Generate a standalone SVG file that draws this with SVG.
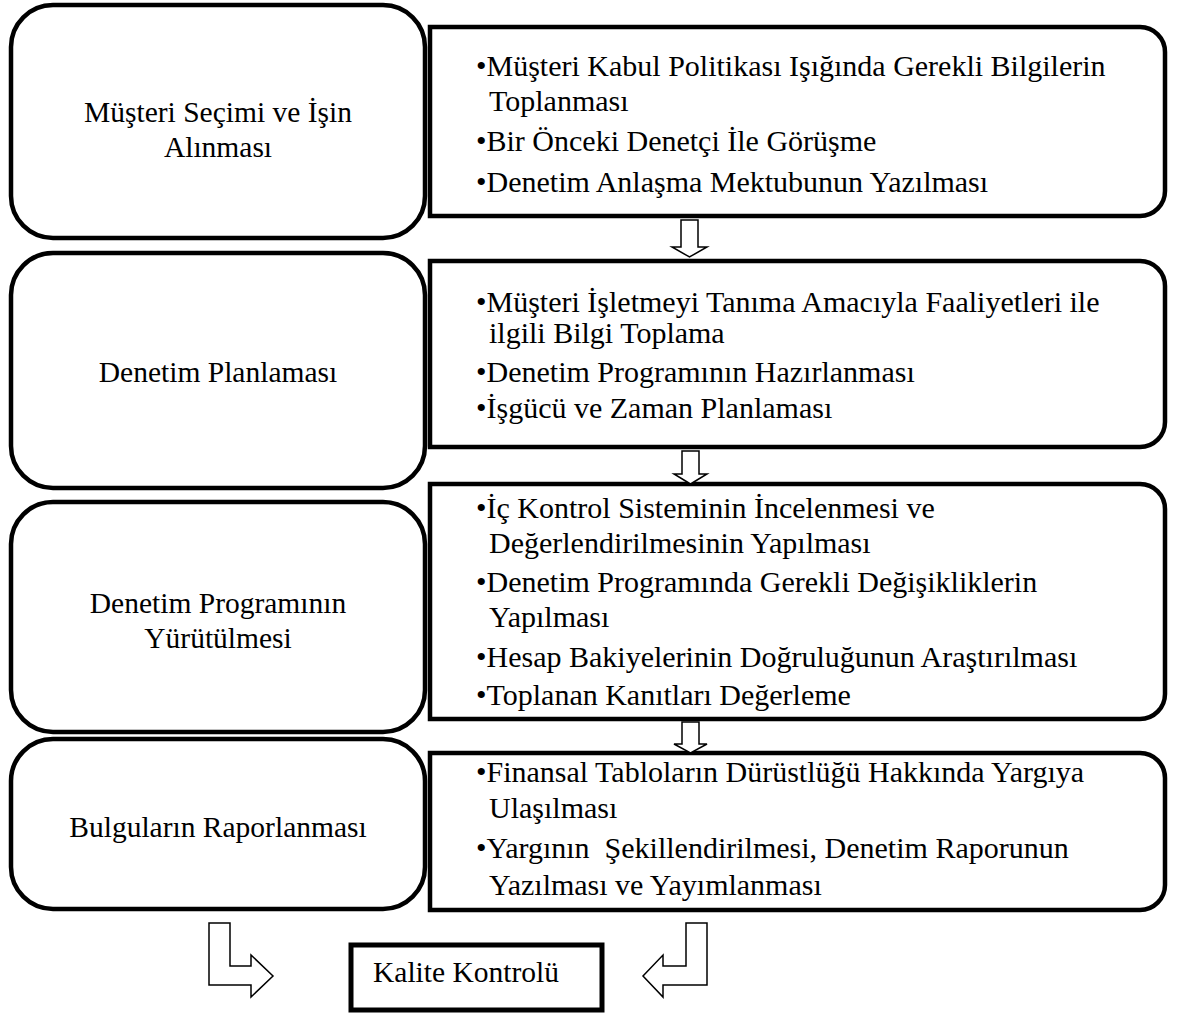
<svg xmlns="http://www.w3.org/2000/svg" width="1184" height="1016" viewBox="0 0 1184 1016">
  <style>
    .stage { fill: #ffffff; stroke: #000000; stroke-width: 4.5; }
    .detail { fill: #ffffff; stroke: #000000; stroke-width: 4.5; }
    .final { fill: #ffffff; stroke: #000000; stroke-width: 5; }
    .arrow { fill: #ffffff; stroke: #000000; stroke-width: 1.5; stroke-linejoin: miter; }
    .mid { text-anchor: middle; }
    .item { font-size: 30px; }
  </style>
  <rect width="1184" height="1016" fill="#ffffff"/>

  <g font-family="Liberation Serif, DejaVu Serif, serif" font-size="29.5" fill="#000000">
  <!-- Stage 1 -->
  <g id="stage-1">
    <rect class="stage" x="11" y="5" width="414" height="233" rx="42" ry="42"/>
    <text class="mid" x="218" y="122">Müşteri Seçimi ve İşin</text>
    <text class="mid" x="218" y="157">Alınması</text>
  </g>
  <g id="stage-1-details">
    <path class="detail" d="M430,27 H1140 A25,25 0 0 1 1165,52 V191 A25,25 0 0 1 1140,216 H430 Z"/>
    <text class="item" x="476" y="76">•Müşteri Kabul Politikası Işığında Gerekli Bilgilerin</text>
    <text class="item" x="489" y="111">Toplanması</text>
    <text class="item" x="476" y="151">•Bir Önceki Denetçi İle Görüşme</text>
    <text class="item" x="476" y="192">•Denetim Anlaşma Mektubunun Yazılması</text>
  </g>

  <!-- Stage 2 -->
  <g id="stage-2">
    <rect class="stage" x="11" y="253" width="414" height="235" rx="42" ry="42"/>
    <text class="mid" x="218" y="382">Denetim Planlaması</text>
  </g>
  <g id="stage-2-details">
    <path class="detail" d="M430,261 H1140 A25,25 0 0 1 1165,286 V422 A25,25 0 0 1 1140,447 H430 Z"/>
    <text class="item" x="476" y="312">•Müşteri İşletmeyi Tanıma Amacıyla Faaliyetleri ile</text>
    <text class="item" x="489" y="343">ilgili Bilgi Toplama</text>
    <text class="item" x="476" y="382">•Denetim Programının Hazırlanması</text>
    <text class="item" x="476" y="418">•İşgücü ve Zaman Planlaması</text>
  </g>

  <!-- Stage 3 -->
  <g id="stage-3">
    <rect class="stage" x="11" y="502" width="414" height="230" rx="42" ry="42"/>
    <text class="mid" x="218" y="613">Denetim Programının</text>
    <text class="mid" x="218" y="648">Yürütülmesi</text>
  </g>
  <g id="stage-3-details">
    <path class="detail" d="M430,484 H1140 A25,25 0 0 1 1165,509 V694 A25,25 0 0 1 1140,719 H430 Z"/>
    <text class="item" x="476" y="518">•İç Kontrol Sisteminin İncelenmesi ve</text>
    <text class="item" x="489" y="553">Değerlendirilmesinin Yapılması</text>
    <text class="item" x="476" y="592">•Denetim Programında Gerekli Değişikliklerin</text>
    <text class="item" x="489" y="627">Yapılması</text>
    <text class="item" x="476" y="667">•Hesap Bakiyelerinin Doğruluğunun Araştırılması</text>
    <text class="item" x="476" y="705">•Toplanan Kanıtları Değerleme</text>
  </g>

  <!-- Stage 4 -->
  <g id="stage-4">
    <rect class="stage" x="11" y="739" width="414" height="170" rx="42" ry="42"/>
    <text class="mid" x="218" y="837">Bulguların Raporlanması</text>
  </g>
  <g id="stage-4-details">
    <path class="detail" d="M430,753 H1140 A25,25 0 0 1 1165,778 V885 A25,25 0 0 1 1140,910 H430 Z"/>
    <text class="item" x="476" y="782">•Finansal Tabloların Dürüstlüğü Hakkında Yargıya</text>
    <text class="item" x="489" y="818">Ulaşılması</text>
    <text class="item" x="476" y="858" xml:space="preserve">•Yargının  Şekillendirilmesi, Denetim Raporunun</text>
    <text class="item" x="489" y="895">Yazılması ve Yayımlanması</text>
  </g>

  <!-- Quality control -->
  <g id="quality-control">
    <rect class="final" x="351" y="945" width="251" height="65"/>
    <text x="373" y="982">Kalite Kontrolü</text>
  </g>
  </g>

  <!-- Block arrows -->
  <g id="connectors">
    <polygon class="arrow" points="681,220 698,220 698,247 707,247 689.5,257 672,247 681,247"/>
    <polygon class="arrow" points="682,451 699,451 699,474 707,474 690.5,484 674,474 682,474"/>
    <polygon class="arrow" points="682,722 699,722 699,744 707,744 690.5,753 674,744 682,744"/>
    <polygon class="arrow" points="209,923 230,923 230,966 251,966 251,955 273,976 251,997 251,985 209,985"/>
    <polygon class="arrow" points="707,923 686,923 686,966 663,966 663,955 643,976 663,997 663,985 707,985"/>
  </g>
</svg>
